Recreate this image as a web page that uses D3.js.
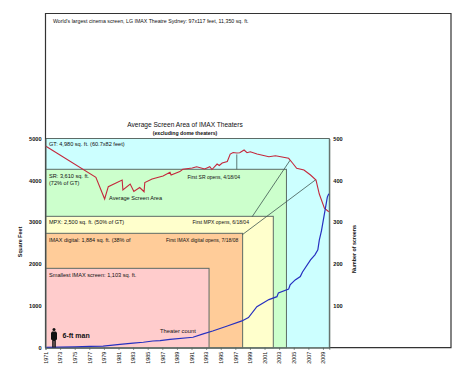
<!DOCTYPE html>
<html>
<head>
<meta charset="utf-8">
<script src="https://cdn.jsdelivr.net/npm/d3@7"></script>
<style>
  html, body { margin: 0; padding: 0; background: #fff; }
  text { font-family: "Liberation Sans", Arial, sans-serif; fill: #111; }
</style>
</head>
<body>
<div id="vis"></div>
<script>
// Datos
const area_years = [1971, 1977.9, 1979.1, 1979.6, 1981.5, 1981.6, 1982.6, 1983.1, 1983.9, 1984.5, 1984.6, 1985.6, 1987.1, 1988.05, 1988.2, 1989.4, 1989.8, 1991.1, 1991.7, 1992.8, 1993.5, 1993.8, 1994.5, 1994.8, 1995.2, 1995.9, 1996.3, 1996.7, 1997.2, 1997.6, 1998.2, 1998.6, 1999.05, 1999.97, 2001.6, 2002.5, 2004.3, 2004.8, 2005.4, 2006.4, 2007.3, 2008.05, 2008.5, 2009.2, 2009.8];
const area_values = [4820, 4072, 3554, 3848, 4008, 3769, 3912, 3733, 3829, 3728, 3948, 4032, 4104, 4192, 4127, 4209, 4264, 4295, 4326, 4271, 4326, 4259, 4390, 4355, 4414, 4450, 4629, 4665, 4653, 4660, 4725, 4660, 4684, 4629, 4565, 4589, 4527, 4421, 4288, 4247, 4127, 4008, 3673, 3332, 3250];

const count_years = [1971, 1975, 1977.1, 1978.9, 1981.2, 1983, 1984.4, 1985.7, 1986.7, 1988.05, 1991.2, 1992.6, 1993.9, 1995.9, 1997.9, 1998.8, 1999.95, 2001.6, 2002.7, 2002.9, 2004.3, 2004.5, 2005.2, 2005.9, 2006.2, 2007.3, 2007.9, 2008.3, 2008.5, 2008.8, 2009.2, 2009.6, 2009.8];
const count_values = [1, 2, 3, 4, 8, 11, 13, 16, 17, 20, 25, 33, 40, 52, 64, 72, 98, 115, 122, 131, 140, 150, 162, 170, 181, 210, 222, 234, 257, 280, 320, 360, 368];

// Rectangulos de formato, de mayor a menor
const format_ends = [2009.87, 2004, 2002.2, 1998, 1993.4];
const format_tops = [5000, 4264, 3140, 2734, 1897];
const format_colors = ["#ccffff", "#ccffcc", "#ffffcc", "#ffcc99", "#ffcccc"];

const year_ticks = d3.range(1971, 2010, 2);
const area_ticks = [0, 1000, 2000, 3000, 4000, 5000];
const count_ticks = [100, 200, 300, 400, 500];

// Lineas guia: desde la curva hasta el rectangulo [anio1, valor1, anio2, valor2]
const leaders = [
  [1997.2, 4620, 1997.2, 4264],
  [2004.5, 4480, 1999.3, 3130],
  [2008.05, 4020, 1997.95, 2700],
];

const WIDTH = 474;
const HEIGHT = 379;
const margins = { left: 45.5, right: 329.3, top: 138.5, bottom: 347.7 };

const SVG = d3.select("#vis").append("svg")
  .attr("width", WIDTH)
  .attr("height", HEIGHT)
  .style("display", "block");

const x = d3.scaleLinear().domain([1971, 2009.87]).range([margins.left, margins.right]);
const y_area = d3.scaleLinear().domain([0, 5000]).range([margins.bottom, margins.top]);
const y_count = d3.scaleLinear().domain([0, 500]).range([margins.bottom, margins.top]);

const LINE_GREY = "#5d6b66";

// Rectangulos
SVG.append("g").selectAll("rect")
  .data(format_ends)
  .join("rect")
  .attr("x", x(1971))
  .attr("y", (d, i) => y_area(format_tops[i]))
  .attr("width", d => x(d) - x(1971))
  .attr("height", (d, i) => y_area(0) - y_area(format_tops[i]))
  .attr("fill", (d, i) => format_colors[i])
  .attr("stroke", LINE_GREY)
  .attr("stroke-width", 1);

// Marco exterior
SVG.append("path")
  .attr("d", `M45.5,347.7V13.5H451V347.7H329`)
  .attr("fill", "none")
  .attr("stroke", "#333")
  .attr("stroke-width", 1.2);

// Lineas guia
SVG.append("g").selectAll("line")
  .data(leaders)
  .join("line")
  .attr("x1", d => x(d[0]))
  .attr("y1", d => y_area(d[1]))
  .attr("x2", d => x(d[2]))
  .attr("y2", d => y_area(d[3]))
  .attr("stroke", "#3f5550")
  .attr("stroke-width", 0.8);

// Curvas
const line_area = d3.line().x(d => x(d[0])).y(d => y_area(d[1]));
const line_count = d3.line().x(d => x(d[0])).y(d => y_count(d[1]));

SVG.append("path")
  .attr("d", line_area(d3.zip(area_years, area_values)))
  .attr("fill", "none")
  .attr("stroke", "#c4283c")
  .attr("stroke-width", 1.1);

SVG.append("path")
  .attr("d", line_count(d3.zip(count_years, count_values)))
  .attr("fill", "none")
  .attr("stroke", "#2630c0")
  .attr("stroke-width", 1.2);

// Ejes
const ejeX = d3.axisBottom(x).tickValues(year_ticks).tickFormat(d3.format("d")).tickSize(2);
const ejeY = d3.axisLeft(y_area).tickValues(area_ticks).tickFormat(d3.format("d")).tickSize(0).tickPadding(4);
const ejeY2 = d3.axisRight(y_count).tickValues(count_ticks).tickFormat(d3.format("d")).tickSize(0).tickPadding(4);

const gx = SVG.append("g").attr("transform", `translate(0,${margins.bottom})`).call(ejeX);
gx.selectAll("text")
  .attr("transform", "rotate(-90)")
  .attr("x", -4)
  .attr("y", 0)
  .attr("dy", "0.32em")
  .attr("text-anchor", "end")
  .attr("font-size", 5.4);

const gy = SVG.append("g").attr("transform", `translate(${margins.left},0)`).call(ejeY);
const gy2 = SVG.append("g").attr("transform", `translate(${margins.right},0)`).call(ejeY2);
[gy, gy2].forEach(g => g.selectAll("text").attr("font-size", 5.6).attr("font-weight", "bold"));
[gx, gy, gy2].forEach(g => g.select(".domain").attr("stroke", LINE_GREY));
gx.selectAll("line").attr("stroke", LINE_GREY);

// Textos
function label(px, py, str, size, opts = {}) {
  return SVG.append("text")
    .attr("x", px)
    .attr("y", py)
    .attr("font-size", size)
    .attr("font-weight", opts.weight || "normal")
    .attr("text-anchor", opts.anchor || "start")
    .text(str);
}

label(53, 22.5, "World's largest cinema screen, LG IMAX Theatre Sydney: 97x117 feet, 11,350 sq. ft.", 5.25);
label(185, 127, "Average Screen Area of IMAX Theaters", 6.6, { anchor: "middle" });
label(185, 134.5, "(excluding dome theaters)", 5.2, { anchor: "middle", weight: "bold" });

label(49, 145.5, "GT: 4,980 sq. ft. (60.7x82 feet)", 5.6);
label(49, 178, "SR: 3,610 sq. ft.", 5.6);
label(49, 185, "(72% of GT)", 5.6);
label(109, 200, "Average Screen Area", 5.6);
label(187.5, 178.5, "First SR opens, 4/18/04", 5);
label(49, 224, "MPX: 2,500 sq. ft. (50% of GT)", 5.5);
label(192.5, 224, "First MPX opens, 6/18/04", 5);
label(49, 242, "IMAX digital: 1,884 sq. ft. (38% of", 5.5);
label(166, 241.5, "First IMAX digital opens, 7/18/08", 5);
label(49, 276.5, "Smallest IMAX screen: 1,103 sq. ft.", 5.6);
label(160, 333, "Theater count", 5.8);
label(62.5, 338, "6-ft man", 7, { weight: "bold" });

SVG.append("text")
  .attr("transform", "translate(22,242) rotate(-90)")
  .attr("text-anchor", "middle")
  .attr("font-size", 5.3)
  .attr("font-weight", "bold")
  .text("Square Feet");

SVG.append("text")
  .attr("transform", "translate(356,249) rotate(-90)")
  .attr("text-anchor", "middle")
  .attr("font-size", 5.3)
  .attr("font-weight", "bold")
  .text("Number of screens");

// Silueta del hombre
const man = SVG.append("g").attr("transform", "translate(54,328)").attr("fill", "#111");
man.append("circle").attr("cx", 0).attr("cy", 1.6).attr("r", 1.5);
man.append("path").attr("d", "M-2,3.4 H2 L3,5 V11.5 L1.8,12 V19.5 H0.3 V13 H-0.3 V19.5 H-1.8 V12 L-3,11.5 V5 Z");
</script>
</body>
</html>
